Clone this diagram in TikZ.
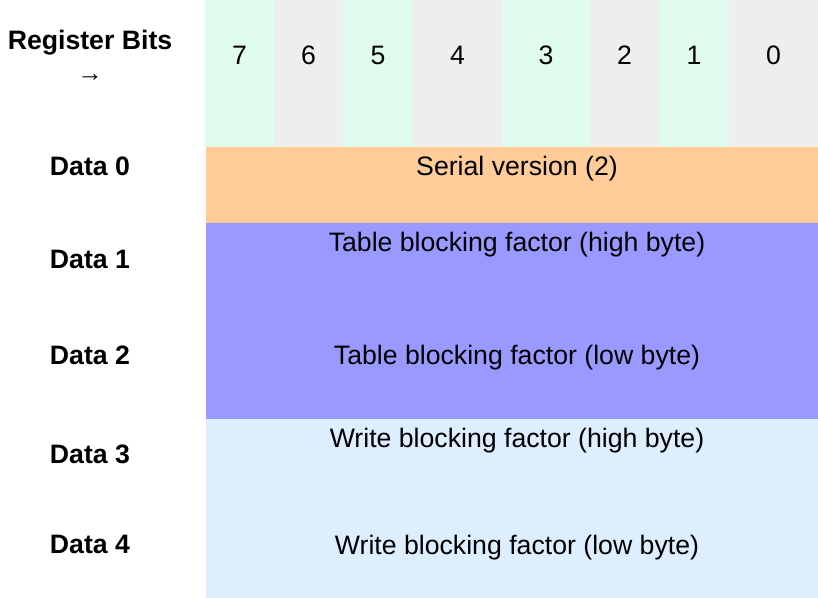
\documentclass[tikz,border=0pt]{standalone}
\usepackage{fontspec}
\setmainfont{Liberation Sans}
\usetikzlibrary{positioning}
\definecolor{Mint}{HTML}{DFFCEE}
\definecolor{Mist}{HTML}{EEEEEE}
\definecolor{Peach}{HTML}{FFCC99}
\definecolor{Violet}{HTML}{9999FF}
\definecolor{Sky}{HTML}{DDEEFF}
\tikzset{
  txt/.style={font=\fontsize{20}{24}\selectfont,inner sep=0pt,anchor=base,text=black},
  rowlab/.style={txt,font=\fontsize{20}{24}\selectfont\bfseries},
  bitlab/.style={txt},
  fieldlab/.style={txt},
  arrowlab/.style={font=\fontsize{19}{21}\selectfont,inner sep=0pt}
}
\begin{document}
\begin{tikzpicture}[x=0.75pt,y=-0.75pt]
  \useasboundingbox (0,0) rectangle (818,598);
  % header columns
  \foreach \b/\xl/\xr/\c in {7/205/274/Mint,6/274/343/Mist,5/343/413/Mint,4/413/502/Mist,
                             3/502/590/Mint,2/590/659/Mist,1/659/729/Mint,0/729/818/Mist}{
    \fill[\c] (\xl,0) rectangle (\xr,147);
    \node[bitlab] (bit\b) at ({(\xl+\xr)/2},65) {\b};
  }
  % field bands
  \fill[Peach] (206,147) rectangle (818,223);
  \fill[Violet] (206,223) rectangle (818,419);
  \fill[Sky] (206,419) rectangle (818,598);
  \node[rowlab] (reg) at (90,50) {Register Bits};
  \node[arrowlab] (regarrow) at (90,78) {→};
  \foreach \i/\y in {0/175.7,1/268.3,2/365,3/463.3,4/554}
    \node[rowlab] (data\i) at (90,\y) {Data \i};
  \node[fieldlab] (serial) at (517,176) {Serial version (2)};
  \node[fieldlab] (tblhi) at (517,251.7) {Table blocking factor (high byte)};
  \node[fieldlab] (tbllo) at (517,364.3) {Table blocking factor (low byte)};
  \node[fieldlab] (wrhi) at (517,447.3) {Write blocking factor (high byte)};
  \node[fieldlab] (wrlo) at (517,555) {Write blocking factor (low byte)};
\end{tikzpicture}
\end{document}
